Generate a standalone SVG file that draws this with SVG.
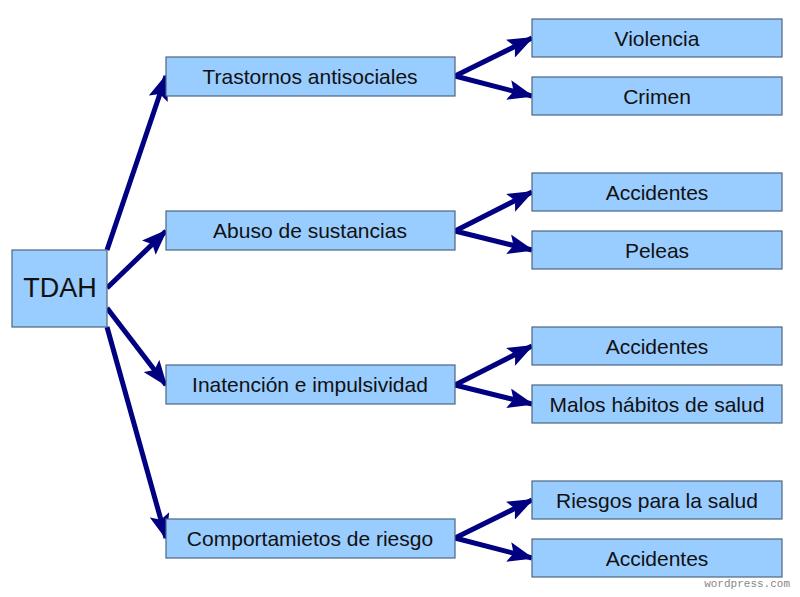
<svg xmlns="http://www.w3.org/2000/svg" width="800" height="597" viewBox="0 0 800 597">
<style>
.b{fill:#99ccff;stroke:#4d6680;stroke-width:1.2}
.t{font-family:"Liberation Sans",Arial,sans-serif;font-size:21px;fill:#111;text-anchor:middle}
.c line{stroke:#000080;stroke-width:5;marker-end:url(#a)}
</style>
<defs><marker id="a" markerUnits="userSpaceOnUse" markerWidth="26" markerHeight="20" refX="24" refY="10" orient="auto"><path d="M0,0L26,10L0,20L5,10Z" fill="#000080"/></marker></defs>
<rect width="800" height="597" fill="#fff"/>
<g class="c">
<line x1="107" y1="250" x2="166" y2="76"/>
<line x1="107" y1="288" x2="166" y2="231"/>
<line x1="107" y1="308" x2="166" y2="385"/>
<line x1="107" y1="327" x2="166" y2="538"/>
<line x1="455" y1="76" x2="532" y2="38"/><line x1="455" y1="76" x2="532" y2="96"/>
<line x1="455" y1="231" x2="532" y2="192"/><line x1="455" y1="231" x2="532" y2="250"/>
<line x1="455" y1="385" x2="532" y2="346"/><line x1="455" y1="385" x2="532" y2="404"/>
<line x1="455" y1="538" x2="532" y2="500"/><line x1="455" y1="538" x2="532" y2="558"/>
</g>
<g id="tdah"><rect class="b" x="12" y="250" width="95" height="77"/><text class="t" x="60" y="297" style="font-size:27px">TDAH</text></g>
<g id="m1"><rect class="b" x="166" y="57" width="289" height="39"/><text class="t" x="310" y="84">Trastornos antisociales</text></g>
<g id="m2"><rect class="b" x="166" y="211" width="289" height="39"/><text class="t" x="310" y="238">Abuso de sustancias</text></g>
<g id="m3"><rect class="b" x="166" y="365" width="289" height="39"/><text class="t" x="310" y="392">Inatención e impulsividad</text></g>
<g id="m4"><rect class="b" x="166" y="519" width="289" height="39"/><text class="t" x="310" y="546">Comportamietos de riesgo</text></g>
<g id="r1"><rect class="b" x="532" y="19" width="250" height="38"/><text class="t" x="657" y="46">Violencia</text></g>
<g id="r2"><rect class="b" x="532" y="77" width="250" height="38"/><text class="t" x="657" y="104">Crimen</text></g>
<g id="r3"><rect class="b" x="532" y="173" width="250" height="38"/><text class="t" x="657" y="200">Accidentes</text></g>
<g id="r4"><rect class="b" x="532" y="231" width="250" height="38"/><text class="t" x="657" y="258">Peleas</text></g>
<g id="r5"><rect class="b" x="532" y="327" width="250" height="38"/><text class="t" x="657" y="354">Accidentes</text></g>
<g id="r6"><rect class="b" x="532" y="385" width="250" height="38"/><text class="t" x="657" y="412">Malos hábitos de salud</text></g>
<g id="r7"><rect class="b" x="532" y="481" width="250" height="38"/><text class="t" x="657" y="508">Riesgos para la salud</text></g>
<g id="r8"><rect class="b" x="532" y="539" width="250" height="38"/><text class="t" x="657" y="566">Accidentes</text></g>
<text x="790" y="587" style="font-family:'Liberation Mono',monospace;font-size:11px;fill:#888;text-anchor:end">wordpress.com</text>
</svg>
